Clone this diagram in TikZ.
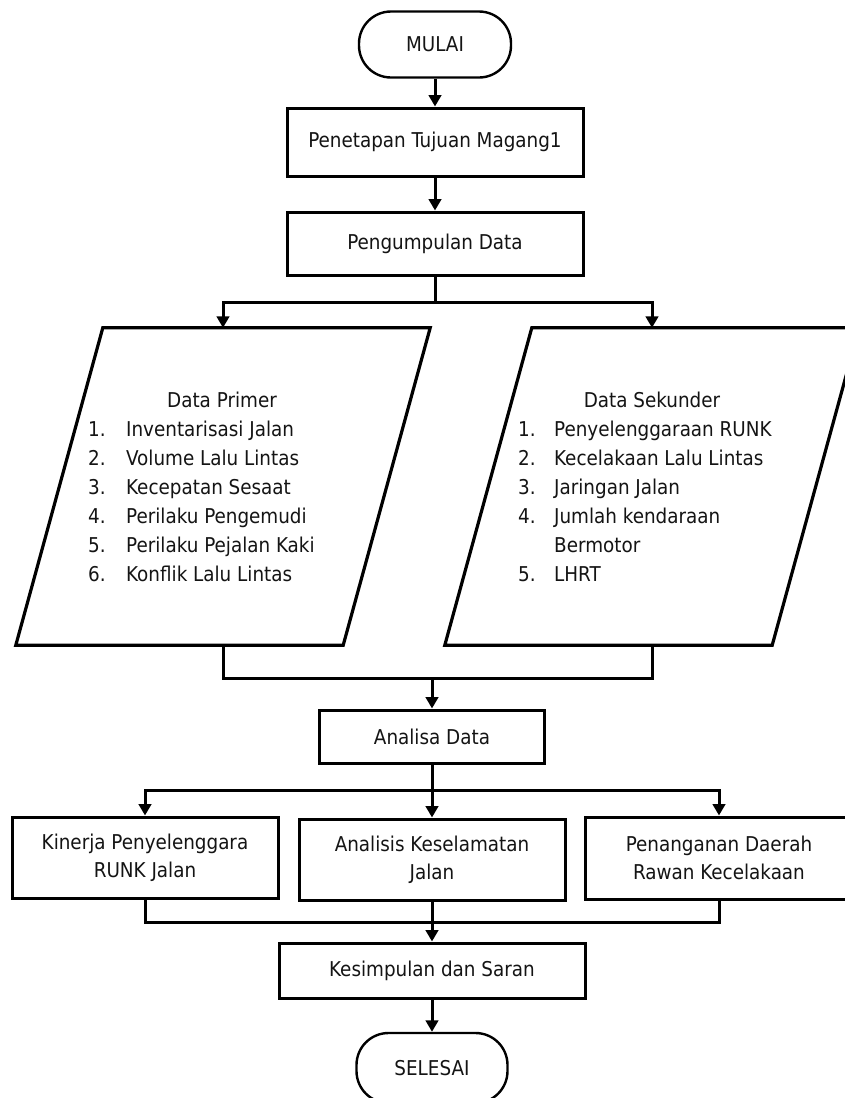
\documentclass[tikz,border=0pt]{standalone}
\usepackage{fontspec}
\setmainfont{DejaVu Sans Condensed}
\usetikzlibrary{arrows.meta}
\begin{document}
\begin{tikzpicture}[x=1pt,y=-1pt,
  txt/.style={font=\fontsize{20.4}{28}\selectfont, text=black!92},
  box/.style={txt, draw, line width=3pt, rectangle, inner sep=0pt, align=center},
  term/.style={txt, draw, line width=2.4pt, rounded corners=32pt, inner sep=0pt},
  shapebox/.style={inner sep=0pt, minimum width=414pt, minimum height=317pt},
  para/.style={line width=3.2pt, line join=miter},
  conn/.style={line width=3pt},
  arr/.style={conn, -{Triangle[width=12.5pt,length=11.5pt]}},
  listtxt/.style={font=\fontsize{20.4}{29}\selectfont, text=black!92, align=left, anchor=west, inner sep=0pt}
  ]
\useasboundingbox (0,0) rectangle (845,1098);
\clip (0,0) rectangle (845,1098);

% top column
\node[term, minimum width=152pt, minimum height=66pt] (mulai) at (435,44.5) {MULAI};
\node[box, minimum width=296pt, minimum height=68pt] (p1) at (435,142) {Penetapan Tujuan Magang1};
\node[box, minimum width=296pt, minimum height=63pt] (p2) at (435,243.5) {Pengumpulan Data};

% parallelograms
\node[shapebox] (dp) at (223,486.5) {};
\node[shapebox] (ds) at (652,486.5) {};
\draw[para] ([xshift=87pt]dp.north west) -- (dp.north east) -- ([xshift=-87pt]dp.south east) -- (dp.south west) -- cycle;
\draw[para] ([xshift=87pt]ds.north west) -- (ds.north east) -- ([xshift=-87pt]ds.south east) -- (ds.south west) -- cycle;

\node[txt] (dpT) at (222,400) {Data Primer};
\node[listtxt] (dpL) at (88,501.5) {%
\makebox[38pt][l]{1.}Inventarisasi Jalan\\
\makebox[38pt][l]{2.}Volume Lalu Lintas\\
\makebox[38pt][l]{3.}Kecepatan Sesaat\\
\makebox[38pt][l]{4.}Perilaku Pengemudi\\
\makebox[38pt][l]{5.}Perilaku Pejalan Kaki\\
\makebox[38pt][l]{6.}Konflik Lalu Lintas};

\node[txt] (dsT) at (652,400) {Data Sekunder};
\node[listtxt] (dsL) at (518,501.5) {%
\makebox[36pt][l]{1.}Penyelenggaraan RUNK\\
\makebox[36pt][l]{2.}Kecelakaan Lalu Lintas\\
\makebox[36pt][l]{3.}Jaringan Jalan\\
\makebox[36pt][l]{4.}Jumlah kendaraan\\
\hspace*{36pt}Bermotor\\
\makebox[36pt][l]{5.}LHRT};

% lower column
\node[box, minimum width=225pt, minimum height=53pt] (an) at (432,736.5) {Analisa Data};
\node[box, minimum width=266pt, minimum height=81pt] (b1) at (145,857.5) {Kinerja Penyelenggara\\RUNK Jalan};
\node[box, minimum width=266pt, minimum height=81pt] (b2) at (432,859.5) {Analisis Keselamatan\\Jalan};
\node[box, minimum width=268pt, minimum height=82pt] (b3) at (719,858) {Penanganan Daerah\\Rawan Kecelakaan};
\node[box, minimum width=306pt, minimum height=55pt] (ks) at (432,970.5) {Kesimpulan dan Saran};
\node[term, minimum width=151pt, minimum height=70pt] (sel) at (432,1068) {SELESAI};

% connectors
\coordinate (s1) at (435,302);
\coordinate (j1) at (432,678);
\coordinate (j2) at (432,790);
\coordinate (j3) at (432,922);

\draw[arr] (mulai) -- (p1);
\draw[arr] (p1) -- (p2);
\draw[conn] (p2.south) -- (s1);
\draw[arr] (s1) -| (dp.north);
\draw[arr] (s1) -| (ds.north);

\draw[conn] (dp.south) -- (dp.south |- j1) -- (ds.south |- j1) -- (ds.south);
\draw[arr] (j1) -- (an.north);

\draw[conn] (an.south) -- (j2);
\draw[arr] (j2) -| (b1.north);
\draw[arr] (j2) -| (b3.north);
\draw[arr] (j2) -- (b2.north);

\draw[conn] (b1.south) -- (b1.south |- j3) -- (b3.south |- j3) -- (b3.south);
\draw[arr] (b2.south) -- (ks.north);
\draw[arr] (ks) -- (sel);
\end{tikzpicture}
\end{document}
